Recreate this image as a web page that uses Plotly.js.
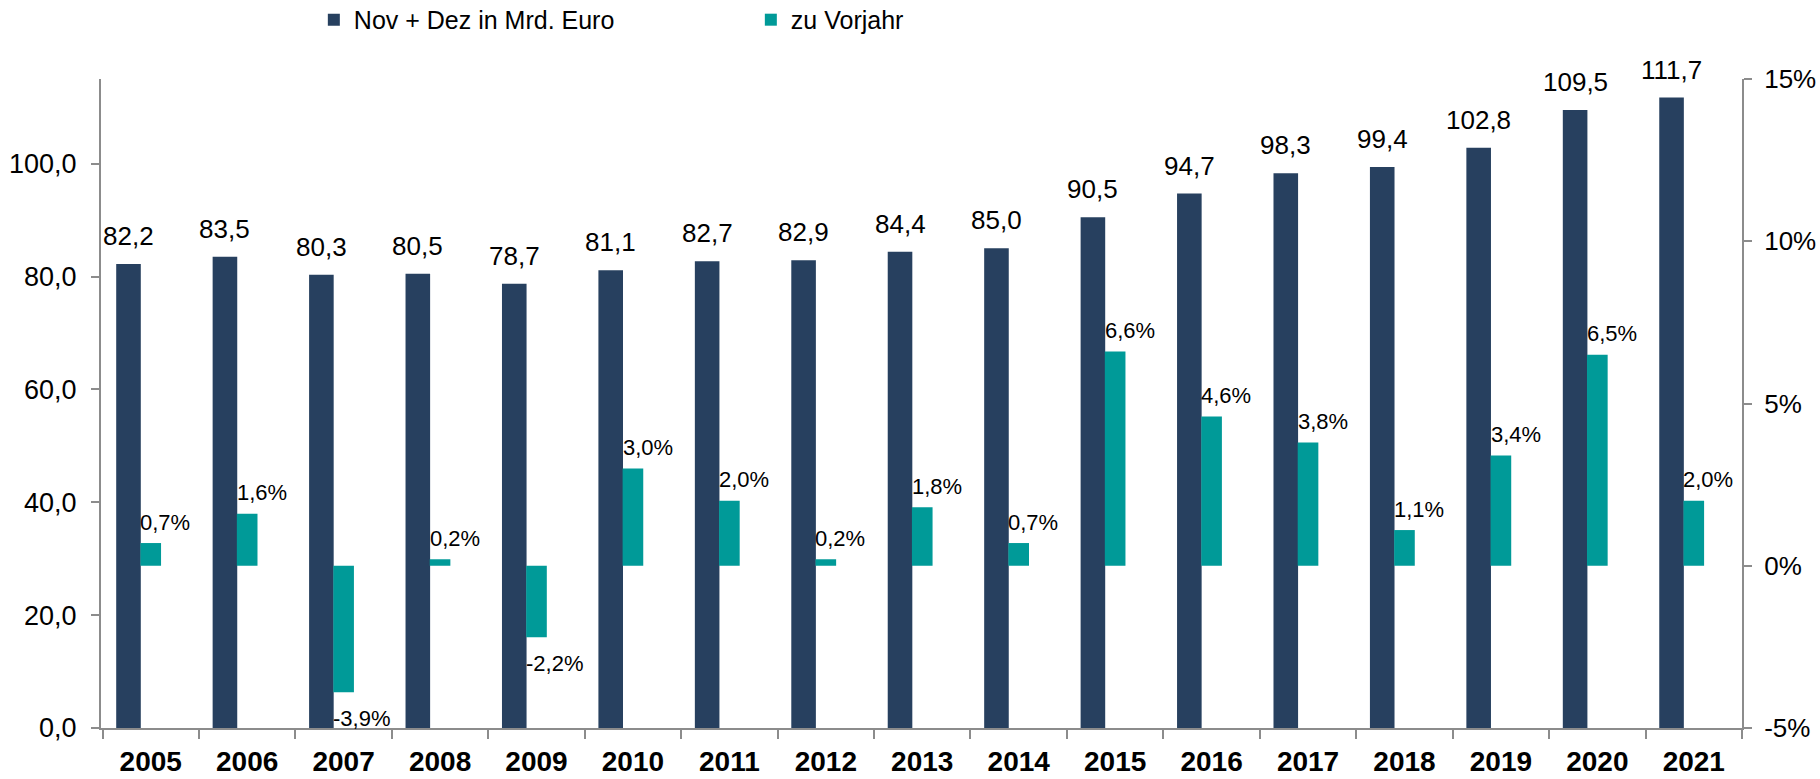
<!DOCTYPE html>
<html>
<head>
<meta charset="utf-8">
<script src="https://cdn.plot.ly/plotly-3.0.1.min.js"></script>
<style>html,body{margin:0;padding:0;background:#fff;}#chart{width:1820px;height:779px;}</style>
</head>
<body>
<div id="chart"></div>
<script>
const years = ['2005','2006','2007','2008','2009','2010','2011','2012','2013','2014','2015','2016','2017','2018','2019','2020','2021'];
const umsatz = [82.2,83.5,80.3,80.5,78.7,81.1,82.7,82.9,84.4,85.0,90.5,94.7,98.3,99.4,102.8,109.5,111.7];
const vorjahr = [0.7,1.6,-3.9,0.2,-2.2,3.0,2.0,0.2,1.8,0.7,6.6,4.6,3.8,1.1,3.4,6.5,2.0];
const leftTicks = [0,20,40,60,80,100];
const rightTicks = [-5,0,5,10,15];
const rightTickText = ['-5%','0%','5%','10%','15%'];
const seriesNames = ['Nov + Dez in Mrd. Euro','zu Vorjahr'];

const NAVY = '#27405F', TEAL = '#009A98';
const FONT = '"Liberation Sans", Arial, sans-serif';
const fmt = v => v.toFixed(1).replace('.', ',');

const navyOffset = -0.358, navyWidth = 0.255;
const tealOffset = -0.107, tealWidth = 0.214;

const traces = [
  {type:'bar', name:seriesNames[0], x:years, y:umsatz, marker:{color:NAVY},
   offset:navyOffset, width:navyWidth, yaxis:'y', hoverinfo:'x+y'},
  {type:'bar', name:seriesNames[1], x:years, y:vorjahr, marker:{color:TEAL},
   offset:tealOffset, width:tealWidth, yaxis:'y2', hoverinfo:'x+y'}
];

const annotations = [];
umsatz.forEach((v,i)=>{
  annotations.push({x:i + navyOffset + navyWidth/2, y:v, xref:'x', yref:'y', text:fmt(v),
    showarrow:false, xanchor:'center', yanchor:'middle', yshift:28,
    font:{family:FONT, size:26, color:'#000'}});
});
vorjahr.forEach((v,i)=>{
  annotations.push({x:i + tealOffset, y:v, xref:'x', yref:'y2', text:fmt(v)+'%',
    showarrow:false, xanchor:'left', yanchor:'middle', yshift: v>=0 ? 21 : -26, xshift:-2,
    font:{family:FONT, size:22, color:'#000'}});
});

const layout = {
  width:1820, height:779,
  margin:{l:101, r:78, t:79, b:51, pad:0, autoexpand:false},
  paper_bgcolor:'#fff', plot_bgcolor:'#fff',
  separators:',.',
  barmode:'overlay',
  font:{family:FONT, color:'#000'},
  showlegend:true,
  legend:{orientation:'h', x:0.1297, xanchor:'left', y:1.091, yanchor:'middle',
    font:{family:FONT, size:25, color:'#000'}, entrywidth:392, itemwidth:30,
    bgcolor:'rgba(0,0,0,0)'},
  xaxis:{type:'category', showline:true, linecolor:'#8c8c8c', linewidth:2,
    ticks:'outside', tickson:'boundaries', ticklen:9, tickcolor:'#8c8c8c', tickwidth:2,
    showgrid:false, zeroline:false, ticklabelstandoff:7,
    tickfont:{family:FONT, size:28, color:'#000', weight:'bold'}},
  yaxis:{range:[0,115], tickvals:leftTicks, tickformat:'.1f', showline:true,
    linecolor:'#8c8c8c', linewidth:2, ticks:'outside', ticklen:8, tickcolor:'#8c8c8c', tickwidth:2,
    showgrid:false, zeroline:false, ticklabelstandoff:9,
    tickfont:{family:FONT, size:27, color:'#000'}},
  yaxis2:{range:[-5,15], overlaying:'y', side:'right', tickvals:rightTicks, ticktext:rightTickText,
    showline:true, linecolor:'#8c8c8c', linewidth:2, ticks:'outside', ticklen:8, tickcolor:'#8c8c8c', tickwidth:2,
    showgrid:false, zeroline:false, ticklabelstandoff:7,
    tickfont:{family:FONT, size:26, color:'#000'}},
  annotations:annotations
};

Plotly.newPlot('chart', traces, layout, {displayModeBar:false, staticPlot:true});
</script>
</body>
</html>
